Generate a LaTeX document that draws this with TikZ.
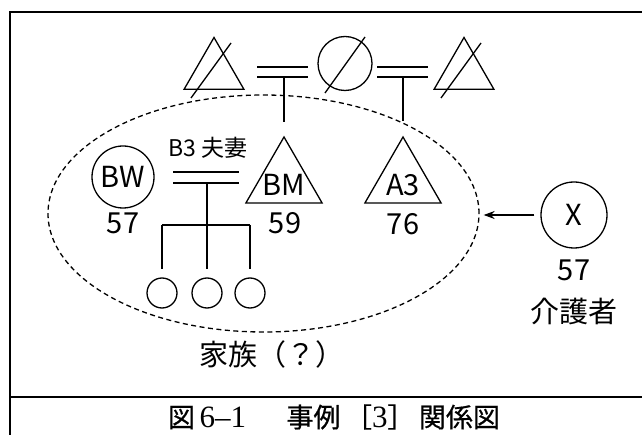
\documentclass[tikz,border=0pt]{standalone}
\usepackage{fontspec}
\newfontfamily\jpfont{Noto Sans CJK JP}
\newfontfamily\capjpfont{Noto Sans CJK JP}[FakeBold=0.6]
\newfontfamily\numfont{Liberation Serif}
\usetikzlibrary{shapes.geometric,calc,arrows.meta}

\tikzset{
  person/.style={draw, line width=1.3pt, inner sep=0pt},
  male/.style={person, regular polygon, regular polygon sides=3},
  female/.style={person, circle},
  tag/.style={inner sep=0pt, font=\jpfont\fontsize{29}{29}\selectfont},
  smalltag/.style={inner sep=0pt, font=\jpfont\fontsize{23}{23}\selectfont},
  slash/.style={line width=1.3pt},
  marry/.style={double, double distance=8pt, line width=1.8pt},
  desc/.style={line width=1.8pt},
}

\begin{document}
\begin{tikzpicture}[x=1pt,y=-1pt]
  \useasboundingbox (0,0) rectangle (642,435);

  % frame and caption line
  \draw[line width=2.4pt] (10,435) -- (10,12) -- (642,12);
  \draw[line width=2.4pt] (10,397) -- (642,397);

  % 1. Top generation (all deceased)
  \node[male, minimum size=69pt] (gfB) at (214,72) {};
  \node[female, minimum size=54pt] (gm) at (345,63.5) {};
  \node[male, minimum size=69pt] (gfA) at (464,72) {};
  \draw[slash] ($(gfB)+(-23,26)$) -- ($(gfB)+(17,-29)$);
  \draw[slash] ($(gm)+(-20,29.5)$) -- ($(gm)+(20,-26.5)$);
  \draw[slash] ($(gfA)+(-23,26)$) -- ($(gfA)+(17,-29)$);

  % marriage bars between them
  \coordinate (m1a) at (257,72);
  \coordinate (m1b) at (308,72);
  \coordinate (m2a) at (377,72);
  \coordinate (m2b) at (428,72);
  \draw[marry] (m1a) -- (m1b);
  \draw[marry] (m2a) -- (m2b);

  % 2. Second generation
  \node[male, minimum size=88pt,
        label={[tag, yshift=-4pt]center:BM}] (bm) at (284,181) {};
  \node[male, minimum size=88pt,
        label={[tag, yshift=-4pt]center:A3}] (a3) at (403,181) {};
  \node[female, minimum size=62pt, tag] (bw) at (123,177) {BW};
  \node[tag] (bwage) at (123,223) {57};
  \node[tag] (bmage) at (285,223) {59};
  \node[tag] (a3age) at (403,224) {76};

  % descent lines (stop short of the triangles)
  \coordinate (m1) at (284,77);
  \coordinate (m2) at (403,77);
  \draw[desc, shorten >=14pt] (m1) -- (bm);
  \draw[desc, shorten >=15pt] (m2) -- (a3);

  % 3. Couple B3 and children
  \node[smalltag] (b3tag) at (208,148) {B3 夫妻};
  \coordinate (b3a) at (173,177.5);
  \coordinate (b3b) at (239,177.5);
  \draw[marry, double distance=9pt] (b3a) -- (b3b);

  \node[female, minimum size=30pt] (c1) at (162,293) {};
  \node[female, minimum size=30pt] (c2) at (207,293) {};
  \node[female, minimum size=30pt] (c3) at (250,293) {};
  \coordinate (b3) at (207,183);
  \coordinate (sib) at (207,225);
  \draw[desc, shorten >=8pt] (b3) -- (c2);
  \draw[desc] (sib -| c1) -- (sib -| c3);
  \draw[desc, shorten >=8pt] (sib -| c1) -- (c1);
  \draw[desc, shorten >=8pt] (sib -| c3) -- (c3);

  % 4. Family boundary and the carer
  \node[ellipse, draw, line width=1.3pt, dash pattern=on 5pt off 3.5pt,
        minimum width=431pt, minimum height=237pt, inner sep=0pt] (fam) at (263.5,213.5) {};
  \node[tag] (famtag) at (272,354.5) {家族（？）};

  \node[female, minimum size=66pt, tag] (x) at (574,215) {X};
  \node[tag] (xage) at (574,270) {57};
  \node[tag] (xrole) at (574,311) {介護者};
  \draw[line width=1.5pt, -{Stealth[length=11pt, width=8pt]},
        shorten <=6pt, shorten >=4pt] (x) -- (x -| fam.east);

  % caption
  \node[inner sep=0pt] (cap) at (334,417)
    {\capjpfont\fontsize{27}{27}\selectfont 図\,{\numfont\fontsize{31}{31}\selectfont 6–1}\hspace{1.5em}事例\,［{\numfont\fontsize{31}{31}\selectfont 3}］\,関係図};
\end{tikzpicture}
\end{document}
